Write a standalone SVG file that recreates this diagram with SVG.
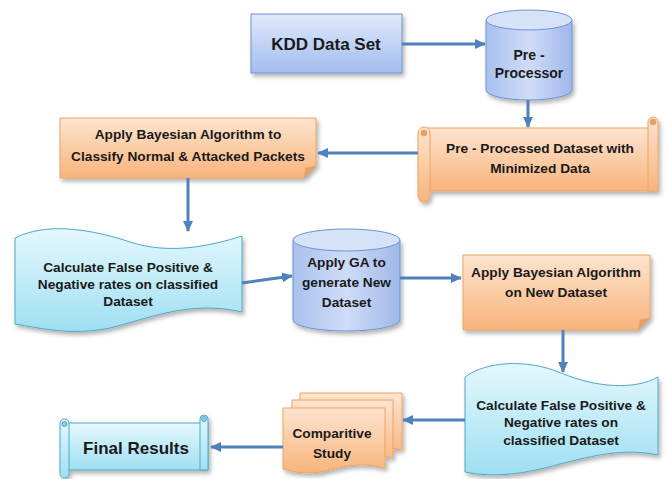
<svg xmlns="http://www.w3.org/2000/svg" width="667" height="479" viewBox="0 0 667 479">
<defs>
<linearGradient id="gBlue" x1="0" y1="0" x2="0" y2="1"><stop offset="0" stop-color="#dfe9fb"/><stop offset="1" stop-color="#a3bdee"/></linearGradient>
<linearGradient id="gCyl" x1="0" y1="0" x2="1" y2="0"><stop offset="0" stop-color="#a9c1ee"/><stop offset="0.5" stop-color="#cfdcf7"/><stop offset="1" stop-color="#9fb8ea"/></linearGradient>
<linearGradient id="gOrange" x1="0" y1="0" x2="0" y2="1"><stop offset="0" stop-color="#fde4cf"/><stop offset="1" stop-color="#f8b47c"/></linearGradient>
<linearGradient id="gCyan" x1="0" y1="0" x2="0" y2="1"><stop offset="0" stop-color="#e4f8fd"/><stop offset="1" stop-color="#9fdff2"/></linearGradient>
<filter id="sh" x="-10%" y="-10%" width="130%" height="130%"><feDropShadow dx="2" dy="3" stdDeviation="2" flood-color="#000" flood-opacity="0.3"/></filter>
<marker id="ah" markerUnits="userSpaceOnUse" markerWidth="11" markerHeight="10" refX="10" refY="5" orient="auto"><path d="M0,0 L11,5 L0,10 z" fill="#4f81bd"/></marker>
<style>
.t{font-family:"Liberation Sans",Arial,sans-serif;font-weight:bold;font-size:13.7px;fill:#1a1a1a;text-anchor:middle}
.big{font-size:17px}
.blue{fill:url(#gBlue);stroke:#6f92d2;stroke-width:1}
.cyl{fill:url(#gCyl);stroke:#6f92d2;stroke-width:1}
.cyltop{fill:#d6e2f8;stroke:#6f92d2;stroke-width:1}
.org{fill:url(#gOrange);stroke:#eba463;stroke-width:1}
.cyan{fill:url(#gCyan);stroke:#4fa8c8;stroke-width:1}
.fold{fill:#e3a06a;stroke:#eba463;stroke-width:1}
.cfold{fill:#8ccfe4;stroke:#4fa8c8;stroke-width:1}
.c{stroke:#4f81bd;stroke-width:3;fill:none;marker-end:url(#ah)}
</style>
</defs>

<g id="kdd">
<rect x="251" y="14" width="151" height="59" class="blue" filter="url(#sh)"/>
<text x="326" y="50" class="t big">KDD Data Set</text>
</g>

<g id="preprocessor">
<path d="M486,20 V90 A43,10 0 0 0 572,90 V20" class="cyl" filter="url(#sh)"/>
<ellipse cx="529" cy="20" rx="43" ry="10" class="cyltop"/>
<text x="529" y="60" class="t" style="font-size:14px">Pre -</text>
<text x="529" y="78" class="t" style="font-size:14px">Processor</text>
</g>

<g id="preprocessed">
<g filter="url(#sh)">
<path d="M424,128 H654 V191 H424 Z" class="org"/>
<path d="M648,191 V122 A5,5 0 0 1 658,122 V191 Z" class="org"/>
<rect x="418" y="127" width="12" height="75" rx="6" class="org"/>
</g>
<circle cx="424" cy="133" r="3" class="fold"/>
<circle cx="653" cy="122" r="3" class="fold"/>
<text x="540" y="153" class="t">Pre - Processed Dataset with</text>
<text x="540" y="173" class="t">Minimized Data</text>
</g>

<g id="bayes1">
<path d="M60,118 H316 V166 L304,178 H60 Z" class="org" filter="url(#sh)"/>
<path d="M316,166 L306,168 L304,178 Z" class="fold"/>
<text x="188" y="139" class="t">Apply Bayesian Algorithm to</text>
<text x="188" y="161" class="t">Classify Normal &amp; Attacked Packets</text>
</g>

<g id="rates1">
<path d="M15,238 C50,220 100,232 130,242 C170,255 210,246 242,236 V312 C190,300 150,318 110,328 C70,336 40,328 15,324 Z" class="cyan" filter="url(#sh)"/>
<text x="128" y="272" class="t">Calculate False Positive &amp;</text>
<text x="128" y="289" class="t">Negative rates on classified</text>
<text x="128" y="306" class="t">Dataset</text>
</g>

<g id="ga">
<path d="M293,240 V320 A53.5,11 0 0 0 400,320 V240" class="cyl" filter="url(#sh)"/>
<ellipse cx="346.5" cy="240" rx="53.5" ry="11" class="cyltop"/>
<text x="346.5" y="267" class="t">Apply GA to</text>
<text x="346.5" y="287" class="t">generate New</text>
<text x="346.5" y="307" class="t">Dataset</text>
</g>

<g id="bayes2">
<path d="M463,255 H650 V318 L638,330 H463 Z" class="org" filter="url(#sh)"/>
<path d="M650,318 L640,320 L638,330 Z" class="fold"/>
<text x="556" y="277" class="t">Apply Bayesian Algorithm</text>
<text x="556" y="297" class="t">on New Dataset</text>
</g>

<g id="rates2">
<path d="M465,377 C485,362 525,358 561,373 C597,388 635,390 658,377 V455 C625,448 595,455 560,464 C525,474 495,478 465,472 Z" class="cyan" filter="url(#sh)"/>
<text x="561" y="410" class="t">Calculate False Positive &amp;</text>
<text x="561" y="427" class="t">Negative rates on</text>
<text x="561" y="445" class="t">classified Dataset</text>
</g>

<g id="comparitive">
<g filter="url(#sh)">
<path d="M300,393 H402 V450 Q378,444 352,452 Q326,460 300,452 Z" class="org"/>
<path d="M292,400 H393 V458 Q369,452 343,460 Q317,468 292,460 Z" class="org"/>
<path d="M283,408 H385 V468 Q360,461 334,469 Q308,477 283,469 Z" class="org"/>
</g>
<text x="332" y="438" class="t">Comparitive</text>
<text x="332" y="458" class="t">Study</text>
</g>

<g id="final">
<g filter="url(#sh)">
<path d="M64,423 H208 V470 H64 Z" class="cyan"/>
<path d="M200,470 V419 A4,4 0 0 1 208,419 V470 Z" class="cyan"/>
<rect x="60" y="419" width="9" height="59" rx="4.5" class="cyan"/>
</g>
<circle cx="64.5" cy="424" r="2.5" class="cfold"/>
<circle cx="204" cy="419" r="2.5" class="cfold"/>
<text x="136" y="454" class="t big">Final Results</text>
</g>

<g id="connectors">
<line x1="402" y1="44" x2="485" y2="44" class="c"/>
<line x1="528" y1="100" x2="528" y2="127" class="c"/>
<line x1="418" y1="153" x2="318" y2="153" class="c"/>
<line x1="188" y1="178" x2="188" y2="231" class="c"/>
<line x1="242" y1="283" x2="292" y2="276" class="c"/>
<line x1="400" y1="278" x2="461" y2="278" class="c"/>
<line x1="563" y1="330" x2="563" y2="372" class="c"/>
<line x1="465" y1="420" x2="403" y2="420" class="c"/>
<line x1="283" y1="447" x2="211" y2="447" class="c"/>
</g>
</svg>
